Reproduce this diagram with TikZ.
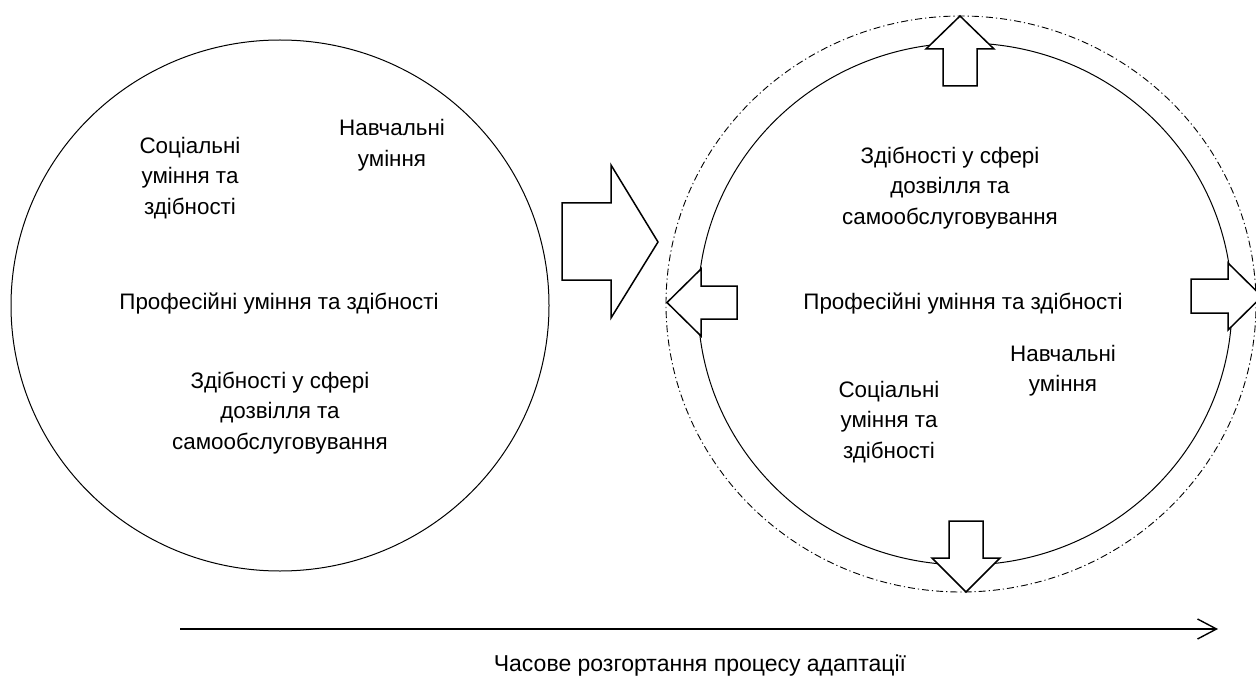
\documentclass[tikz,border=0pt]{standalone}
\usepackage{fontspec}
\setmainfont{Liberation Sans}
\usetikzlibrary{shapes.geometric,arrows.meta}
\begin{document}
\begin{tikzpicture}[x=1pt,y=-1pt,
  ring/.style={draw, ellipse, line width=1pt, inner sep=0pt},
  dashring/.style={draw, ellipse, line width=0.9pt, inner sep=0pt, dash pattern=on 7pt off 3pt on 1.2pt off 3pt},
  blockarrow/.style={draw, fill=white, line width=1.5pt, line join=miter},
  lbl/.style={align=center, font=\fontsize{22.4}{30.5}\selectfont, inner sep=0pt},
  timeline/.style={line width=1.4pt, -{Straight Barb[length=19pt,width=20pt,line width=1.4pt]}}]
\useasboundingbox (0,0) rectangle (1256,679);
\clip (0,0) rectangle (1256,679);
\fill[white] (0,0) rectangle (1256,679);
% left circle
\node[ring, minimum width=538pt, minimum height=531pt] (leftc) at (280,305.5) {};
% right circles
\node[dashring, minimum width=590pt, minimum height=576pt] (outerc) at (961,304) {};
\node[ring, minimum width=534pt, minimum height=522pt] (innerc) at (965,304) {};
% big arrow
\draw[blockarrow] (562,203) -- (611,203) -- (611,165) -- (658,242) -- (611,318) -- (611,280) -- (562,280) -- cycle;
% top arrow
\draw[blockarrow] (943,86) -- (943,49) -- (926,49) -- (960,16) -- (994,49) -- (977,49) -- (977,86) -- cycle;
% bottom arrow
\draw[blockarrow] (949,521) -- (949,558) -- (932,558) -- (966,592) -- (1000,558) -- (983,558) -- (983,521) -- cycle;
% left arrow
\draw[blockarrow] (737,286) -- (701,286) -- (701,269) -- (667,302.5) -- (701,336) -- (701,319) -- (737,319) -- cycle;
% right arrow
\draw[blockarrow] (1191,279) -- (1228,279) -- (1228,263) -- (1262,296.5) -- (1228,330) -- (1228,313) -- (1191,313) -- cycle;
% left circle texts
\node[lbl] (l1) at (190,178) {Соціальні\\уміння та\\здібності};
\node[lbl] (l2) at (392,145) {Навчальні\\уміння};
\node[lbl] (l3) at (279,304) {Професійні уміння та здібності};
\node[lbl] (l4) at (280,413) {Здібності у сфері\\дозвілля та\\самообслуговування};
% right circle texts
\node[lbl] (r1) at (950,188) {Здібності у сфері\\дозвілля та\\самообслуговування};
\node[lbl] (r2) at (963,304) {Професійні уміння та здібності};
\node[lbl] (r3) at (1063,370.5) {Навчальні\\уміння};
\node[lbl] (r4) at (889,422) {Соціальні\\уміння та\\здібності};
% time axis
\coordinate (tstart) at (180,629);
\coordinate (tend) at (1218,629);
\draw[timeline] (tstart) -- (tend);
\node[lbl, font=\fontsize{23}{30.5}\selectfont] (tl) at (700,666) {Часове розгортання процесу адаптації};
\end{tikzpicture}
\end{document}
